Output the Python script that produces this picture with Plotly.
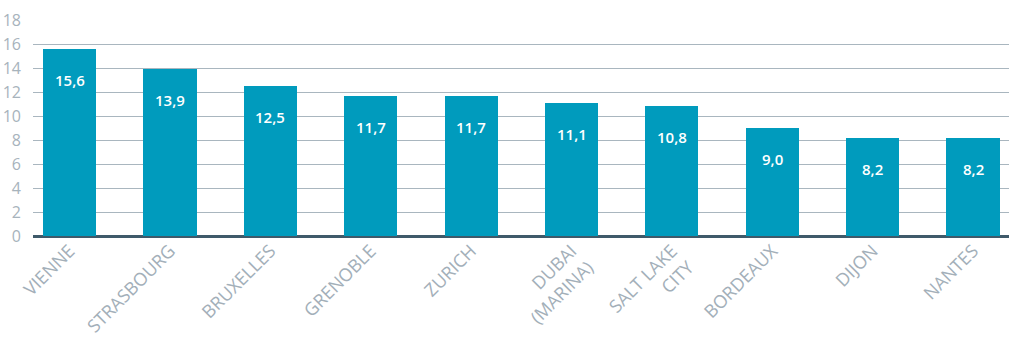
import plotly.graph_objects as go

categories = ["VIENNE", "STRASBOURG", "BRUXELLES", "GRENOBLE", "ZURICH",
              "DUBAI<br>(MARINA)", "SALT LAKE<br>CITY", "BORDEAUX", "DIJON", "NANTES"]
values = [15.6, 13.9, 12.5, 11.7, 11.7, 11.1, 10.8, 9.0, 8.2, 8.2]
labels = ["15,6", "13,9", "12,5", "11,7", "11,7", "11,1", "10,8", "9,0", "8,2", "8,2"]
yticks = [0, 2, 4, 6, 8, 10, 12, 14, 16, 18]

fig = go.Figure()
fig.add_trace(go.Bar(x=list(range(len(categories))), y=values, width=0.53,
                     marker=dict(color="#009bbd", line=dict(width=0)),
                     hoverinfo="skip"))

for i, (v, t) in enumerate(zip(values, labels)):
    fig.add_annotation(x=i, y=v, text=t, showarrow=False, yanchor="top", yshift=-19,
                       font=dict(family="Open Sans", size=15, color="white", weight=600))

fig.update_layout(
    width=1011, height=349,
    margin=dict(l=33, r=2, t=20, b=113),
    plot_bgcolor="white", paper_bgcolor="white",
    showlegend=False,
    bargap=0,
    xaxis=dict(range=[-0.364, 9.358], tickmode="array",
               tickvals=list(range(len(categories))), ticktext=categories,
               tickangle=-45, showgrid=False, zeroline=False, showline=False,
               ticks="", tickfont=dict(family="Open Sans", size=18, color="#a3afb9")),
    yaxis=dict(range=[0, 18], tickvals=yticks, showgrid=True, gridcolor="#a9b6bf",
               gridwidth=1, zeroline=True, zerolinecolor="#3f5a6a", zerolinewidth=3,
               showline=False, ticklabelstandoff=11,
               tickfont=dict(family="Open Sans", size=16, color="#a7b3bc")),
)

fig.write_html("out.html")
